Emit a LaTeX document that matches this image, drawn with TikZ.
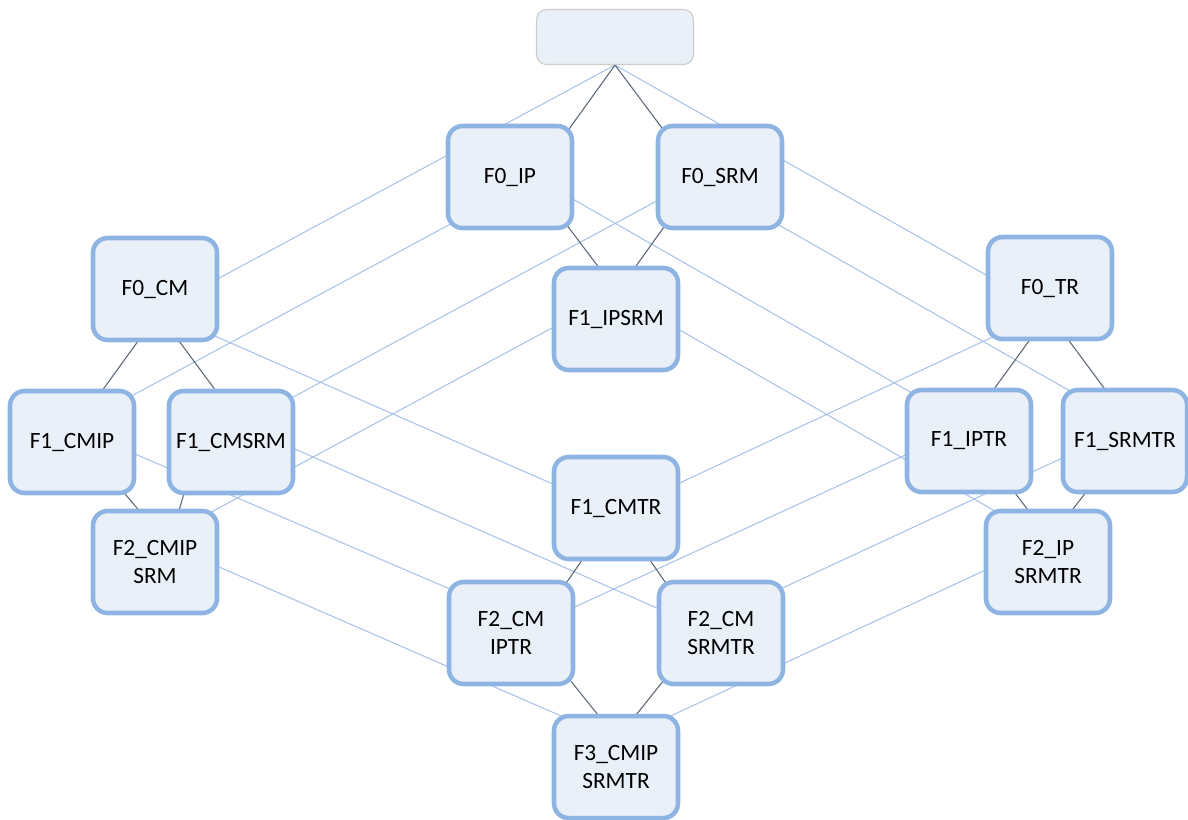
\documentclass[tikz,border=0pt]{standalone}
\usepackage{fontspec}
\setmainfont{Carlito}
\usetikzlibrary{calc,backgrounds}
\definecolor{boxfill}{HTML}{EAF0F8}
\definecolor{boxline}{HTML}{8DB4E2}
\definecolor{rootline}{HTML}{CCCCCC}
\definecolor{softedge}{HTML}{A9C3EA}
\definecolor{hardedge}{HTML}{5C6675}
\tikzset{
  featbox/.style={draw=boxline, line width=3.4pt, fill=boxfill,
    rounded corners=11pt, minimum width=93pt, minimum height=76.5pt,
    inner sep=0pt, align=center, font=\fontsize{17.5}{21}\selectfont},
  rootbox/.style={draw=rootline, line width=0.8pt, fill=boxfill,
    rounded corners=7.5pt, minimum width=117.75pt, minimum height=41.25pt},
  soft/.style={draw=softedge, line width=0.8pt},
  hard/.style={draw=hardedge, line width=0.8pt}
}
\begin{document}
\begin{tikzpicture}[x=0.75pt,y=-0.75pt]
\useasboundingbox (0,0) rectangle (1188,819);

% lattice nodes
\node[rootbox] (T) at (615,37) {};
\node[featbox] (IP) at (510,177) {F0\_IP};
\node[featbox] (SRM) at (720,177) {F0\_SRM};
\node[featbox] (CM) at (155,289) {F0\_CM};
\node[featbox] (TR) at (1050,288) {F0\_TR};
\node[featbox] (IPSRM) at (616,319) {F1\_IPSRM};
\node[featbox] (CMIP) at (72,442) {F1\_CMIP};
\node[featbox] (CMSRM) at (231,442) {F1\_CMSRM};
\node[featbox] (IPTR) at (969,441) {F1\_IPTR};
\node[featbox] (SRMTR) at (1125,441) {F1\_SRMTR};
\node[featbox] (CMTR) at (616,508) {F1\_CMTR};
\node[featbox] (CMIPSRM) at (155,562) {F2\_CMIP\\SRM};
\node[featbox] (IPSRMTR) at (1048,562) {F2\_IP\\SRMTR};
\node[featbox] (CMIPTR) at (511,633) {F2\_CM\\IPTR};
\node[featbox] (CMSRMTR) at (721,633) {F2\_CM\\SRMTR};
\node[featbox] (F3) at (616,767) {F3\_CMIP\\SRMTR};

\begin{scope}[on background layer]
% long links
\draw[soft] (T.south) -- ($(CM)+(55,-6)$);
\draw[soft] (T.south) -- ($(TR)+(-55,-8)$);
\draw[soft] ($(IP)+(-52,43)$) -- ($(CMIP)+(52,-42)$);
\draw[soft] ($(IP)+(54,17)$) -- ($(IPTR)+(-50,-44)$);
\draw[soft] ($(SRM)+(-54,19)$) -- ($(CMSRM)+(53,-40)$);
\draw[soft] ($(SRM)+(52,44)$) -- ($(SRMTR)+(-48,-46)$);
\draw[soft] ($(CM)+(53,44)$) -- ($(CMTR)+(-54,-20)$);
\draw[soft] ($(TR)+(-51,46)$) -- ($(CMTR)+(55,-21)$);
\draw[soft] ($(IPSRM)+(-55,4)$) -- ($(CMIPSRM)+(49,-46)$);
\draw[soft] ($(IPSRM)+(55,6)$) -- ($(IPSRMTR)+(-46,-47)$);
\draw[soft] ($(CMIP)+(56,9)$) -- ($(CMIPTR)+(-54,-41)$);
\draw[soft] ($(CMSRM)+(57,4)$) -- ($(CMSRMTR)+(-55,-21)$);
\draw[soft] ($(IPTR)+(-55,10)$) -- ($(CMIPTR)+(55,-22)$);
\draw[soft] ($(SRMTR)+(-54,13)$) -- ($(CMSRMTR)+(55,-42)$);
\draw[soft] ($(CMIPSRM)+(55,1)$) -- ($(F3)+(-41,-45)$);
\draw[soft] ($(IPSRMTR)+(-56,5)$) -- ($(F3)+(48,-48)$);
% short links
\draw[hard] (T.south) -- ($(IP)+(54,-41)$);
\draw[hard] (T.south) -- ($(SRM)+(-52,-41)$);
\draw[hard] ($(IP)+(53,43)$) -- ($(IPSRM)+(-13,-46)$);
\draw[hard] ($(SRM)+(-51,43)$) -- ($(IPSRM)+(15,-46)$);
\draw[hard] ($(CM)+(-14,48)$) -- ($(CMIP)+(27,-47)$);
\draw[hard] ($(CM)+(21,48)$) -- ($(CMSRM)+(-12,-47)$);
\draw[hard] ($(TR)+(-16,46)$) -- ($(IPTR)+(20,-45)$);
\draw[hard] ($(TR)+(14,46)$) -- ($(SRMTR)+(-15,-45)$);
\draw[hard] ($(CMIP)+(48,46)$) -- ($(CMIPSRM)+(-13,-48)$);
\draw[hard] ($(CMSRM)+(-46,48)$) -- ($(CMIPSRM)+(23,-48)$);
\draw[hard] ($(IPTR)+(43,48)$) -- ($(IPSRMTR)+(-17,-48)$);
\draw[hard] ($(SRMTR)+(-38,50)$) -- ($(IPSRMTR)+(21,-48)$);
\draw[hard] ($(CMTR)+(-29,45)$) -- ($(CMIPTR)+(51,-44)$);
\draw[hard] ($(CMTR)+(29,45)$) -- ($(CMSRMTR)+(-51,-44)$);
\draw[hard] ($(CMIPTR)+(55,42)$) -- ($(F3)+(-14,-47)$);
\draw[hard] ($(CMSRMTR)+(-53,42)$) -- ($(F3)+(16,-47)$);
\end{scope}
\end{tikzpicture}
\end{document}
